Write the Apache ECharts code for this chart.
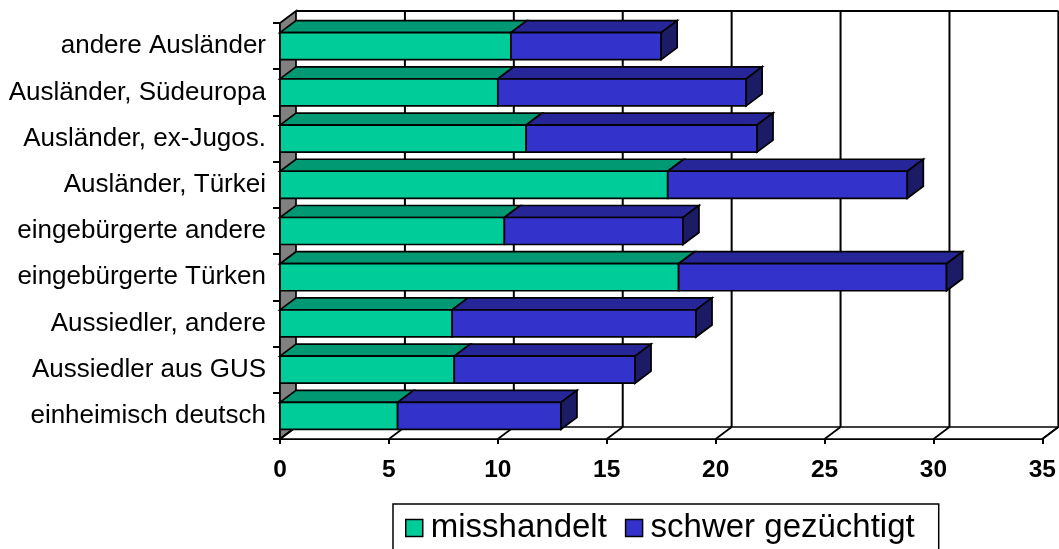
<!DOCTYPE html>
<html>
<head>
<meta charset="utf-8">
<script src="https://cdn.jsdelivr.net/npm/echarts@6/dist/echarts.min.js"></script>
<style>
  html, body { margin: 0; padding: 0; background: #ffffff; }
  #chart { width: 1059px; height: 549px; }
</style>
</head>
<body>
<div id="chart"></div>
<script>
// Categories listed top to bottom
const categories = [
  'andere Ausländer',
  'Ausländer, Südeuropa',
  'Ausländer, ex-Jugos.',
  'Ausländer, Türkei',
  'eingebürgerte andere',
  'eingebürgerte Türken',
  'Aussiedler, andere',
  'Aussiedler aus GUS',
  'einheimisch deutsch'
];
const misshandelt       = [10.6, 10.0, 11.3, 17.8, 10.3, 18.3, 7.9, 8.0, 5.4];
const schwerGezuechtigt = [6.9, 11.4, 10.6, 11.0, 8.2, 12.3, 11.2, 8.3, 7.5];
const xTicks = [0, 5, 10, 15, 20, 25, 30, 35];
const seriesNames = ['misshandelt', 'schwer gezüchtigt'];

// Depth of the pseudo-3D projection (pixels right / up)
const DX = 16, DY = 12;
const FONT = '"Liberation Sans", Arial, Helvetica, sans-serif';
const EDGE = { stroke: '#000', lineWidth: 1.7, lineJoin: 'miter' };

// One stacked segment drawn as a box: top face, front face and (for the outer segment) the right side
function boxRenderer(front, topFace, side, withSide) {
  return function (params, api) {
    const cat = api.value(0), s = api.value(1), e = api.value(2);
    const a = api.coord([s, cat]);
    const b = api.coord([e, cat]);
    const h = api.size([0, 1])[1] * 0.585;
    const yt = a[1] - h / 2, yb = a[1] + h / 2;
    const x0 = a[0], x1 = b[0];
    const children = [
      { type: 'polygon', shape: { points: [[x0, yt], [x1, yt], [x1 + DX, yt - DY], [x0 + DX, yt - DY]] },
        style: Object.assign({ fill: topFace }, EDGE) },
      { type: 'rect', shape: { x: x0, y: yt, width: x1 - x0, height: h },
        style: Object.assign({ fill: front }, EDGE) }
    ];
    if (withSide) {
      children.push({ type: 'polygon', shape: { points: [[x1, yt], [x1 + DX, yt - DY], [x1 + DX, yb - DY], [x1, yb]] },
        style: Object.assign({ fill: side }, EDGE) });
    }
    return { type: 'group', children };
  };
}

// Back wall, left wall and floor of the plot box
function wallRenderer(params, api) {
  const cs = params.coordSys;
  const left = cs.x, right = cs.x + cs.width, top = cs.y, bottom = cs.y + cs.height;
  const children = [];
  // left side wall (grey)
  children.push({ type: 'polygon', shape: { points: [[left, top], [left + DX, top - DY], [left + DX, bottom - DY], [left, bottom]] },
    style: Object.assign({ fill: '#808080' }, EDGE) });
  // floor
  children.push({ type: 'polygon', shape: { points: [[left, bottom], [left + DX, bottom - DY], [right + DX, bottom - DY], [right, bottom]] },
    style: Object.assign({ fill: '#ffffff' }, EDGE) });
  // back wall top edge
  children.push({ type: 'line', shape: { x1: left + DX, y1: top - DY, x2: right + DX, y2: top - DY },
    style: { stroke: '#000', lineWidth: 2 } });
  xTicks.forEach(function (v) {
    const x = api.coord([v, 0])[0];
    if (v > 0) {
      children.push({ type: 'line', shape: { x1: x + DX, y1: top - DY, x2: x + DX, y2: bottom - DY },
        style: { stroke: '#000', lineWidth: 2 } });
    }
    children.push({ type: 'line', shape: { x1: x, y1: bottom, x2: x + DX, y2: bottom - DY },
      style: { stroke: '#000', lineWidth: 1.7 } });
  });
  return { type: 'group', children };
}

const chart = echarts.init(document.getElementById('chart'), null, { renderer: 'canvas' });

const option = {
  backgroundColor: '#ffffff',
  animation: false,
  grid: { left: 280, right: 16, top: 23, bottom: 110, containLabel: false },
  xAxis: {
    type: 'value',
    min: 0, max: 35, interval: 5,
    axisLine: { show: true, lineStyle: { color: '#000', width: 2 } },
    axisTick: { show: true, length: 5, lineStyle: { color: '#000', width: 2 } },
    splitLine: { show: false },
    axisLabel: { color: '#000', fontFamily: FONT, fontSize: 24.5, fontWeight: 'bold', margin: 19 }
  },
  yAxis: {
    type: 'category',
    inverse: true,
    data: categories,
    axisLine: { show: true, lineStyle: { color: '#000', width: 2 } },
    axisTick: { show: true, length: 7, lineStyle: { color: '#000', width: 2 } },
    splitLine: { show: false },
    axisLabel: { color: '#000', fontFamily: FONT, fontSize: 26, margin: 14 }
  },
  legend: {
    data: seriesNames,
    left: 393, top: 504,
    orient: 'horizontal',
    icon: 'rect',
    itemWidth: 17, itemHeight: 17,
    itemGap: 18,
    padding: [4, 24, 10, 12],
    borderColor: '#000', borderWidth: 1.5,
    backgroundColor: '#ffffff',
    itemStyle: { borderColor: '#000', borderWidth: 1.5 },
    textStyle: { color: '#000', fontFamily: FONT, fontSize: 33, lineHeight: 40, padding: [0, 0, 0, 3] }
  },
  series: [
    {
      type: 'custom', name: '_walls', silent: true, z: 1,
      data: [[0, 0]], encode: { x: 0, y: 1 },
      renderItem: wallRenderer
    },
    {
      type: 'custom', name: seriesNames[0], z: 3,
      itemStyle: { color: '#00CC99' },
      data: categories.map(function (c, i) { return [i, 0, misshandelt[i]]; }),
      encode: { x: [1, 2], y: 0 },
      renderItem: boxRenderer('#00CC99', '#009973', '#006B50', false)
    },
    {
      type: 'custom', name: seriesNames[1], z: 3,
      itemStyle: { color: '#3333CC' },
      data: categories.map(function (c, i) { return [i, misshandelt[i], misshandelt[i] + schwerGezuechtigt[i]]; }),
      encode: { x: [1, 2], y: 0 },
      renderItem: boxRenderer('#3333CC', '#262699', '#1C1C66', true)
    }
  ]
};

chart.setOption(option);
</script>
</body>
</html>
